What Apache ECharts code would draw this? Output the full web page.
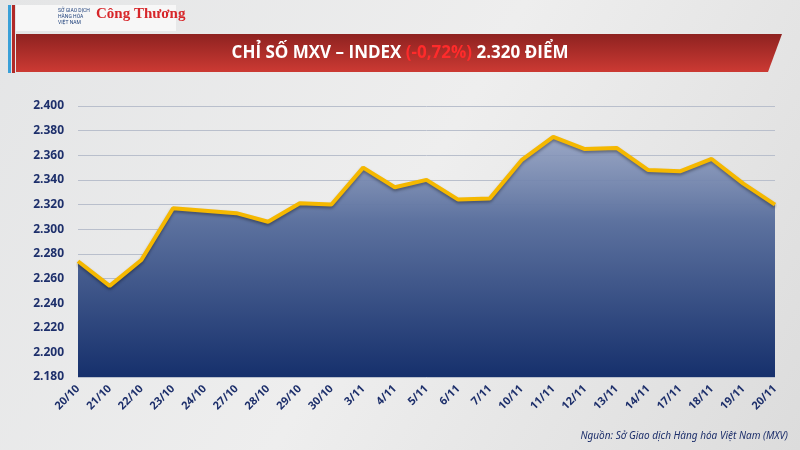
<!DOCTYPE html>
<html><head><meta charset="utf-8">
<script src="https://cdn.jsdelivr.net/npm/echarts@6/dist/echarts.min.js"></script>
<style>html,body{margin:0;padding:0;}#c{width:800px;height:450px;}</style>
</head><body><div id="c"></div>
<script>
const categories = ['20/10','21/10','22/10','23/10','24/10','27/10','28/10','29/10','30/10','3/11','4/11','5/11','6/11','7/11','10/11','11/11','12/11','13/11','14/11','17/11','18/11','19/11','20/11'];
const values = [2274,2254,2275,2317,2315,2313,2306,2321,2320,2350,2334,2340,2324,2325,2356,2375,2365,2366,2348,2347,2357,2337,2320];
const yTicks = {min:2180, max:2400, interval:20};

const chart = echarts.init(document.getElementById('c'));
const fmt = v => String(v).replace(/\B(?=(\d{3})+(?!\d))/g,'.');
chart.setOption({
  backgroundColor: {type:'linear',x:0,y:0,x2:1,y2:1,colorStops:[{offset:0,color:'#e4e5e6'},{offset:0.5,color:'#eeeeee'},{offset:1,color:'#dcdcdc'}]},
  graphic: [
    {type:'rect',shape:{x:8,y:5,width:3,height:68},style:{fill:'#3aa0d8'}},
    {type:'rect',shape:{x:12,y:5,width:3,height:68},style:{fill:'#b02a28'}},
    {type:'rect',shape:{x:16,y:5,width:160,height:26},style:{fill:'#f7f7f7'}},
    {type:'text',left:58,top:8,style:{text:'SỞ GIAO DỊCH\nHÀNG HÓA\nVIỆT NAM',fontSize:5,fill:'#1d3f7a',lineHeight:6,fontFamily:'Roboto'}},
    {type:'text',left:96,top:7,style:{text:'Công Thương',fontSize:15,fill:'#d7262a',fontFamily:'Liberation Serif',fontWeight:'bold'}},
    {type:'polygon',shape:{points:[[16,34],[782,34],[768,72],[16,72]]},style:{fill:{type:'linear',x:0,y:0,x2:0,y2:1,colorStops:[{offset:0,color:'#8e2220'},{offset:1,color:'#cc3a33'}]}}},
    {type:'text',left:'center',top:45,style:{rich:{w:{fill:'#ffffff',fontSize:17,fontWeight:'bold',fontFamily:'Open Sans'},r:{fill:'#ff2b2b',fontSize:17,fontWeight:'bold',fontFamily:'Open Sans'}},text:'{w|CHỈ SỐ MXV – INDEX }{r|(-0,72%)}{w| 2.320 ĐIỂM}'}},
    {type:'text',right:12,top:431,style:{text:'Nguồn: Sở Giao dịch Hàng hóa Việt Nam (MXV)',fontSize:10,fontStyle:'italic',fill:'#1d2f6b',fontFamily:'Noto Sans'}}
  ],
  grid:{left:78,right:25,top:106,bottom:73},
  xAxis:{type:'category',boundaryGap:false,data:categories,
    axisLine:{show:false},axisTick:{show:false},
    axisLabel:{rotate:45,color:'#1d2f6b',fontWeight:'bold',fontSize:11,fontFamily:'Noto Sans',interval:0,margin:10}},
  yAxis:{type:'value',min:yTicks.min,max:yTicks.max,interval:yTicks.interval,
    axisLabel:{formatter:fmt,color:'#1d2f6b',fontWeight:'bold',fontSize:12,fontFamily:'Noto Sans',margin:14},
    splitLine:{lineStyle:{color:'#b9bfcc',width:1}}},
  series:[{type:'line',data:values,symbol:'none',
    lineStyle:{color:'#f5b800',width:4,shadowColor:'rgba(0,0,0,0.35)',shadowBlur:3,shadowOffsetY:2},
    areaStyle:{origin:'start',opacity:1,color:{type:'linear',x:0,y:0,x2:0,y2:1,colorStops:[{offset:0,color:'rgba(140,155,190,0.85)'},{offset:0.35,color:'#5d729f'},{offset:1,color:'#16306c'}]}},
    z:3}]
});
</script></body></html>
